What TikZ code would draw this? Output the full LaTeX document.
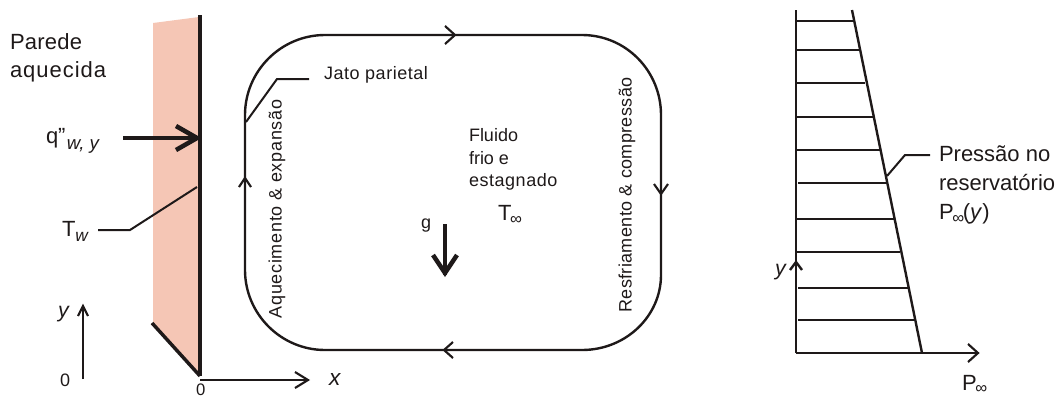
\documentclass[tikz,border=0pt]{standalone}
\usepackage{fontspec}
\setmainfont{Liberation Sans}
\definecolor{wallpink}{RGB}{245,198,181}
\definecolor{ink}{RGB}{30,25,25}
\newcommand{\bigtxt}{\fontsize{16.5}{20}\selectfont}
\newcommand{\midtxt}{\fontsize{13.5}{16}\selectfont}
\newcommand{\rottxt}{\fontsize{13.5}{16}\selectfont}
\newcommand{\subtxt}{\fontsize{12.5}{12}\selectfont}
\tikzset{
  lab/.style={anchor=base west,inner sep=0pt,outer sep=0pt,text=ink,font=\bigtxt},
  labm/.style={anchor=base west,inner sep=0pt,outer sep=0pt,text=ink,font=\midtxt},
  labr/.style={anchor=center,inner sep=0pt,outer sep=0pt,text=ink,font=\rottxt,rotate=90},
  thin line/.style={draw=ink,line width=1.5pt},
  tick line/.style={draw=ink,line width=1.9pt},
  heavy line/.style={draw=ink,line width=3.4pt},
  open head/.style={draw=ink,line width=1.6pt,line join=miter},
  heavy head/.style={draw=ink,line width=3.4pt,line join=miter}
}
\begin{document}
\begin{tikzpicture}[x=0.75pt,y=-0.75pt]
\useasboundingbox (0,0) rectangle (1060,397);
% wall
\fill[wallpink] (153,23) -- (199,17) -- (199,375) -- (153,323) -- cycle;
\coordinate (wallT) at (200,15);
\coordinate (wallB) at (200,376);
\coordinate (wallq) at (197,138);
\coordinate (wallTw) at (197,187);
\coordinate (wallD) at (152,323);
\draw[heavy line] (wallT) -- (wallB);
\draw[draw=ink,line width=2.6pt] (wallD) -- (wallB);
% text left
\node[lab] (parede) at (10,49) {\addfontfeature{LetterSpace=1}Parede};
\node[lab] (aquecida) at (10,77) {\addfontfeature{LetterSpace=4.5}aquecida};
\node[lab] (qwy) at (46,143) {q”\raisebox{-5pt}{\kern1pt\itshape\fontsize{14}{14}\selectfont w, y}};
\node[lab] (tw) at (62,236) {T\raisebox{-4pt}{\itshape\fontsize{13}{14}\selectfont w}};
% heat flux arrow
\coordinate (qS) at (123,138);
\coordinate (qA) at (176,126);
\coordinate (qB) at (176,150);
\draw[heavy line] (qS) -- (wallq);
\draw[heavy head] (qA) -- (wallq) -- (qB);
% Tw leader
\coordinate (twS) at (98,230);
\coordinate (twM) at (130,230);
\draw[thin line] (twS) -- (twM) -- (wallTw);
% y axis left
\coordinate (yS) at (83,379);
\coordinate (yE) at (83,306);
\draw[draw=ink,line width=2pt] (yS) -- (yE);
\draw[open head] (78,316) -- (yE) -- (88,316);
\node[lab,font=\fontsize{16}{18}\selectfont\itshape] (ylab) at (58,317) {y};
\node[labm] (zeroA) at (60,386) {0};
% x axis
\coordinate (xS) at (200,380);
\coordinate (xE) at (308,380);
\draw[draw=ink,line width=2pt] (xS) -- (xE);
\draw[open head] (295,372) -- (xE) -- (295,388);
\node[lab,font=\fontsize{17}{18}\selectfont\itshape] (xlab) at (329,385) {x};
\node[labm,font=\fontsize{12.5}{14}\selectfont] (zeroB) at (196,395.5) {0};
% loop
\coordinate (lt) at (325,35);
\coordinate (rt) at (582,35);
\coordinate (rs) at (661,115);
\coordinate (re) at (661,275);
\coordinate (rb) at (582,350);
\coordinate (lb) at (325,350);
\coordinate (ls) at (245,270);
\coordinate (le) at (245,115);
\draw[draw=ink,line width=1.8pt] (lt) -- (rt) .. controls (626,35) and (661,71) .. (rs) -- (re)
  .. controls (661,316) and (626,350) .. (rb) -- (lb)
  .. controls (281,350) and (245,314) .. (ls) -- (le)
  .. controls (245,71) and (281,35) .. cycle;
\draw[draw=ink,line width=2.2pt] (ls) -- (le);
\draw[open head] (445,26) -- (455,35) -- (445,44);
\draw[open head] (654,184) -- (661,194) -- (668,184);
\draw[open head] (453,342) -- (444,350) -- (453,358);
\draw[open head] (239,187) -- (245,178) -- (251,187);
% Jato leader
\coordinate (jS) at (246,122);
\coordinate (jM) at (277,79);
\coordinate (jE) at (309,79);
\draw[thin line] (jS) -- (jM) -- (jE);
\node[labm] (jato) at (324,79) {\addfontfeature{LetterSpace=3}Jato parietal};
% rotated texts
\node[labr] (aq) at (277,209) {\addfontfeature{LetterSpace=4}Aquecimento \& expansão};
\node[labr] (resf) at (627,195) {\addfontfeature{LetterSpace=2}Resfriamento \& compressão};
% centre
\node[labm] (f1) at (469,141) {Fluido};
\node[labm] (f2) at (469,164) {frio e};
\node[labm] (f3) at (469,186) {\addfontfeature{LetterSpace=3}estagnado};
\node[lab] (tinf) at (498,220) {T\kern-1pt\raisebox{-3pt}{\subtxt ∞}};
\node[labm] (g) at (421,228) {g};
\coordinate (gS) at (445,224);
\coordinate (gE) at (445,275);
\draw[heavy line] (gS) -- (gE);
\draw[heavy head] (433,255) -- (445,273) -- (457,255);
% right chart
\coordinate (o) at (796,353);
\coordinate (yT) at (796,10);
\coordinate (pE) at (978,353);
\coordinate (sT) at (852,10);
\coordinate (sB) at (922,353);
\draw[draw=ink,line width=1.6pt] (o) -- (yT);
\draw[draw=ink,line width=1.6pt] (o) -- (pE);
\draw[open head] (968,344) -- (978,353) -- (968,362);
\draw[draw=ink,line width=1.8pt] (sT) -- (sB);
\draw[open head,line width=1.8pt] (790,270) -- (796,262) -- (802,270);
\foreach \yy/\xa/\xb in {21/797/853,50/797/859,83/797/865,117/797/873,150/797/880,183/798/887,219/797/894,252/797/900,288/798/908,320/798/915}
  \draw[tick line] (\xa,\yy) -- (\xb,\yy);
\coordinate (pS) at (887,176);
\coordinate (pM) at (905,155);
\coordinate (pE2) at (930,155);
\draw[thin line] (pS) -- (pM) -- (pE2);
\node[lab] (p1) at (939,161) {Pressão no};
\node[lab] (p2) at (939,190) {reservatório};
\node[lab] (p3) at (939,219) {P\kern-1pt\raisebox{-3pt}{\subtxt ∞}\kern-1pt(\textit{y})};
\node[lab,font=\fontsize{16}{18}\selectfont\itshape] (y2) at (775,275) {y};
\node[lab] (pinf) at (962,390) {P\kern-1pt\raisebox{-2.5pt}{\subtxt ∞}};
\end{tikzpicture}
\end{document}
